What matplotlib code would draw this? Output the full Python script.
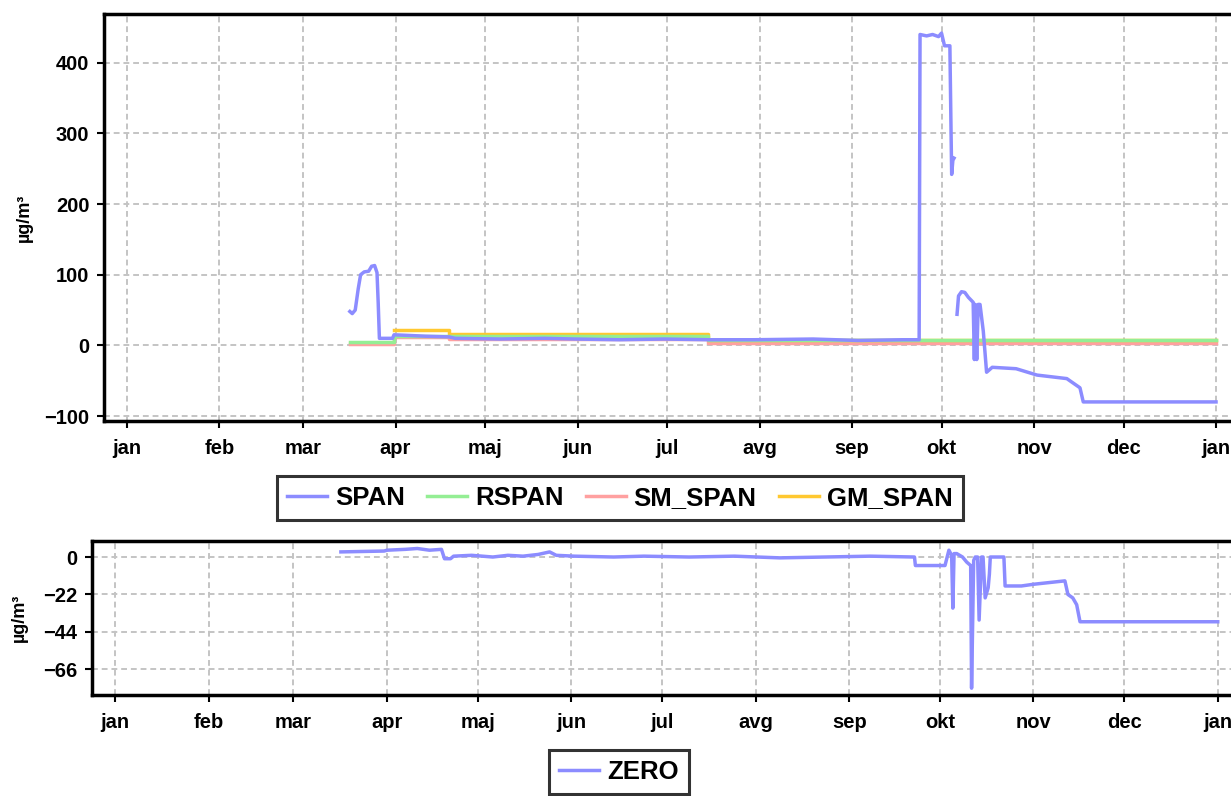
import numpy as np
import pandas as pd
import matplotlib
matplotlib.use("Agg")
import matplotlib.pyplot as plt

plt.rcParams['font.family'] = ['Liberation Sans', 'DejaVu Sans']

YEAR_START = pd.Timestamp("2019-01-01")

# ---- data (day of year, value) ----
span_doy = [74.7, 75.5, 76.5, 77.5, 78.3, 79.5, 81.0, 82.0, 83.0, 83.8, 84.2, 84.6,
            89.0, 89.5, 95.0, 100.0, 108.0, 110.0, 125.0, 140.0, 150.0, 165.0, 180.0,
            195.0, 210.0, 230.0, 245.0, 260.0, 265.5, 265.8, 268.0, 270.0, 272.0, 273.0,
            274.0, 275.8, 276.2, 276.4, 276.8, 277.2, 277.6,
            278.2, 278.7, 279.7, 280.8, 282.0, 283.6, 284.0, 284.3, 284.8, 285.3, 285.9,
            287.0, 288.1, 290.0, 298.0, 305.0, 315.0, 316.0, 319.4, 320.5, 365.0]
span_val = [48, 45, 50, 80, 100, 104, 105, 112, 113, 103, 60, 10,
            10, 15, 14, 13, 12, 10, 9, 10, 9, 8, 9,
            8, 8, 9, 7, 8, 8, 440, 438, 440, 437, 442,
            424, 424, 300, 242, 262, 265, np.nan,
            44, 70, 76, 75, 68, 61, -20, 58, -20, 58, 58,
            20, -38, -31, -33, -42, -47, -50, -60, -80, -80]

rspan_doy = [74.7, 89.5, 89.5, 194.7, 194.7, 365.0]
rspan_val = [5, 5, 14, 14, 8, 8]

sm_span_doy = [74.7, 89.5, 89.5, 108.0, 108.0, 194.7, 194.7, 365.0]
sm_span_val = [2, 2, 12, 12, 9, 9, 3, 3]

gm_span_doy = [89.5, 108.0, 108.0, 194.7, 194.7, 365.0]
gm_span_val = [22, 22, 16, 16, 7, 7]

zero_doy = [74.7, 89.0, 90.0, 96.0, 100.0, 104.0, 108.0, 109.0, 111.0, 112.0, 118.0,
            125.0, 130.0, 135.0, 140.0, 143.8, 146.0, 152.0, 165.0, 175.0, 190.0,
            205.0, 220.0, 235.0, 250.0, 264.6, 264.9, 274.7, 276.0, 276.9, 277.3,
            277.7, 278.6, 280.5, 281.9, 283.2, 283.5, 284.2, 284.7, 285.5, 286.0,
            286.8, 287.3, 288.0, 289.0, 289.4, 289.7, 294.2, 294.6, 300.0, 304.0,
            309.2, 314.4, 315.4, 317.0, 318.3, 319.4, 365.0]
zero_val = [3, 3.5, 4, 4.5, 5, 4, 4.5, -1, -1, 0.5, 1,
            0, 1, 0.5, 1.5, 3, 1, 0.5, 0, 0.5, 0,
            0.5, -0.5, 0, 0.5, 0, -5, -5, 4, 1, -30,
            2, 2, 0, -3, -5, -77, -2, 0, 0, -37,
            0, 0, -24, -18, -10, 0, 0, -17, -17, -16,
            -15, -14, -22, -24, -28, -38, -38]

month_labels = ['jan', 'feb', 'mar', 'apr', 'maj', 'jun', 'jul',
                'avg', 'sep', 'okt', 'nov', 'dec', 'jan']
top_yticks = [-100, 0, 100, 200, 300, 400]
bottom_yticks = [-66, -44, -22, 0]

# ---- styling ----
C_SPAN = '#8c8cff'
C_RSPAN = '#94ee94'
C_SM = '#ffa0a0'
C_GM = '#ffc830'
LW = 2.5


def to_dates(doy):
    return YEAR_START + pd.to_timedelta(np.asarray(doy, dtype=float), unit='D')


month_starts = pd.date_range("2019-01-01", "2020-01-01", freq="MS")

fig = plt.figure(figsize=(12.31, 7.96), dpi=100)

ax1 = fig.add_axes([104 / 1231, 1 - 421 / 796, (1239 - 104) / 1231, (421 - 14) / 796])
ax2 = fig.add_axes([92 / 1231, 1 - 695 / 796, (1241 - 92) / 1231, (695 - 541) / 796])


def style(ax, yticks, ylim):
    ax.set_xlim(YEAR_START - pd.Timedelta(days=7.7), YEAR_START + pd.Timedelta(days=372.7))
    ax.set_ylim(*ylim)
    ax.set_xticks(month_starts)
    ax.set_xticklabels(month_labels)
    ax.set_yticks(yticks)
    ax.grid(True, linestyle=(0, (3, 2)), color='#c4c4c4', linewidth=1.4)
    ax.set_axisbelow(True)
    for sp in ax.spines.values():
        sp.set_linewidth(2.5)
        sp.set_color('black')
    ax.tick_params(axis='both', length=5, width=1.5, labelsize=14.5)
    ax.tick_params(axis='x', pad=8)
    ax.tick_params(axis='y', pad=5.5)
    for lab in ax.get_xticklabels() + ax.get_yticklabels():
        lab.set_fontweight('bold')
    ax.set_ylabel('µg/m³', fontsize=13, fontweight='bold')


ax1.plot(to_dates(span_doy), span_val, color=C_SPAN, lw=LW, label='SPAN', zorder=3)
ax1.plot(to_dates(rspan_doy), rspan_val, color=C_RSPAN, lw=LW, label='RSPAN', zorder=2)
ax1.plot(to_dates(sm_span_doy), sm_span_val, color=C_SM, lw=LW, label='SM_SPAN', zorder=1.5)
ax1.plot(to_dates(gm_span_doy), gm_span_val, color=C_GM, lw=LW, label='GM_SPAN', zorder=1.8)
style(ax1, top_yticks, (-107, 469))
ax1.yaxis.set_label_coords(-0.0626, 0.5)

ax2.plot(to_dates(zero_doy), zero_val, color=C_SPAN, lw=LW, label='ZERO')
style(ax2, bottom_yticks, (-81, 9.4))
ax2.yaxis.set_label_coords(-0.0557, 0.5)

LEG_FS = 18.5
h, l = ax1.get_legend_handles_labels()
leg1 = fig.legend(h, l, loc='center', bbox_to_anchor=(620 / 1231, 1 - 498 / 796), ncol=4,
                  fontsize=LEG_FS, frameon=True, fancybox=False, edgecolor='black',
                  handlelength=1.55, columnspacing=0.88, handletextpad=0.3,
                  borderpad=0.4, borderaxespad=0)
leg1.get_frame().set_linewidth(2.2)
for t in leg1.get_texts():
    t.set_fontweight('bold')

h2, l2 = ax2.get_legend_handles_labels()
leg2 = fig.legend(h2, l2, loc='center', bbox_to_anchor=(619 / 1231, 1 - 772 / 796),
                  fontsize=LEG_FS, frameon=True, fancybox=False, edgecolor='black',
                  handlelength=1.55, handletextpad=0.3, borderpad=0.4, borderaxespad=0)
leg2.get_frame().set_linewidth(2.2)
for t in leg2.get_texts():
    t.set_fontweight('bold')

fig.savefig('out.png', dpi=100)
